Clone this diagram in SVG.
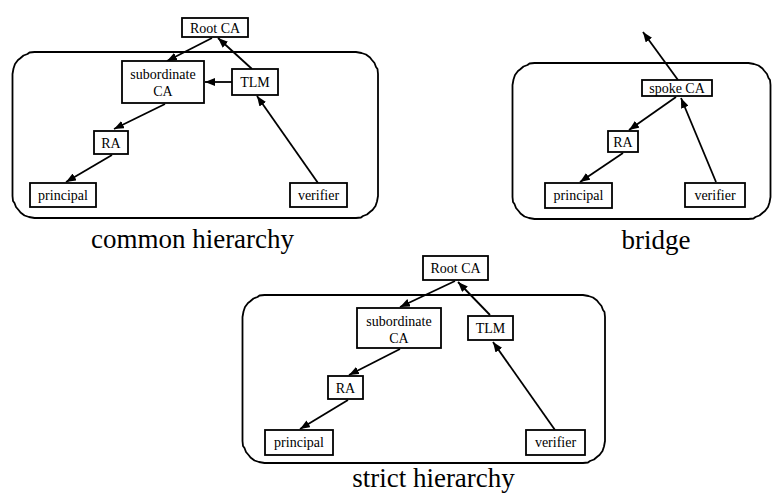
<svg xmlns="http://www.w3.org/2000/svg" width="773" height="493" viewBox="0 0 773 493" font-family="'Liberation Serif', 'Times New Roman', 'DejaVu Serif', serif">
  <defs>
    <marker id="arrow" markerUnits="userSpaceOnUse" markerWidth="10" markerHeight="8" refX="10" refY="4" orient="auto">
      <path d="M0,0 L10,4 L0,8 Z" fill="#000"/>
    </marker>
    <style>
      .domain { fill: none; stroke: #000; stroke-width: 1.8; stroke-linejoin: round; }
      .box rect { fill: #fff; stroke: #000; stroke-width: 1.8; }
      text { font-family: 'Liberation Serif', 'Times New Roman', 'DejaVu Serif', serif; fill: #000; text-anchor: middle; }
      .box text { font-size: 14px; }
      .caption { font-size: 27px; }
      #connectors line { stroke: #000; stroke-width: 1.8; marker-end: url(#arrow); }
    </style>
  </defs>
  <rect width="773" height="493" fill="#fff"/>

  <!-- domain outlines with hand-drawn corners -->
  <g id="domains">
    <path id="domain-common" class="domain" d="M12.5,74 l1,-5.5 1.5,-4.5 3,-4 2,-1.5 3.5,-3 4,-1.5 2,-1.5 5,-0.5 H356 l5.5,1 4.5,1.5 4,3 1.5,2 3,3.5 1.5,4 1.5,2 0.5,5 V196 l-1,5.5 -1.5,4.5 -3,4 -2,1.5 -3.5,3 -4,1.5 -2,1.5 -5,0.5 H34.5 l-5.5,-1 -4.5,-1.5 -4,-3 -1.5,-2 -3,-3.5 -1.5,-4 -1.5,-2 -0.5,-5 Z"/>
    <path id="domain-bridge" class="domain" d="M512.5,85 l1,-5.5 1.5,-4.5 3,-4 2,-1.5 3.5,-3 4,-1.5 2,-1.5 5,-0.5 H748.5 l5.5,1 4.5,1.5 4,3 1.5,2 3,3.5 1.5,4 1.5,2 0.5,5 V197 l-1,5.5 -1.5,4.5 -3,4 -2,1.5 -3.5,3 -4,1.5 -2,1.5 -5,0.5 H534.5 l-5.5,-1 -4.5,-1.5 -4,-3 -1.5,-2 -3,-3.5 -1.5,-4 -1.5,-2 -0.5,-5 Z"/>
    <path id="domain-strict" class="domain" d="M242.5,317 l1,-5.5 1.5,-4.5 3,-4 2,-1.5 3.5,-3 4,-1.5 2,-1.5 5,-0.5 H583 l5.5,1 4.5,1.5 4,3 1.5,2 3,3.5 1.5,4 1.5,2 0.5,5 V441 l-1,5.5 -1.5,4.5 -3,4 -2,1.5 -3.5,3 -4,1.5 -2,1.5 -5,0.5 H264.5 l-5.5,-1 -4.5,-1.5 -4,-3 -1.5,-2 -3,-3.5 -1.5,-4 -1.5,-2 -0.5,-5 Z"/>
  </g>

  <!-- connectors -->
  <g id="connectors">
    <!-- common hierarchy -->
    <line x1="212" y1="38" x2="167" y2="61"/>
    <line x1="252" y1="69" x2="218" y2="38"/>
    <line x1="232" y1="82" x2="205" y2="82"/>
    <line x1="165" y1="104" x2="114" y2="129"/>
    <line x1="112" y1="155" x2="66" y2="182"/>
    <line x1="318" y1="183" x2="257" y2="96"/>
    <!-- bridge -->
    <line x1="678" y1="80" x2="643" y2="32"/>
    <line x1="676" y1="97" x2="629" y2="130"/>
    <line x1="623" y1="153" x2="580" y2="182"/>
    <line x1="716" y1="182" x2="681" y2="98"/>
    <!-- strict hierarchy -->
    <line x1="455" y1="281" x2="400" y2="307"/>
    <line x1="490" y1="315" x2="458" y2="282"/>
    <line x1="400" y1="349" x2="349" y2="375"/>
    <line x1="348" y1="400" x2="300" y2="429"/>
    <line x1="555" y1="430" x2="493" y2="342"/>
  </g>

  <!-- common hierarchy nodes -->
  <g id="c-root" class="box"><rect x="182" y="18" width="66" height="19"/><text x="215" y="32.5">Root CA</text></g>
  <g id="c-sub" class="box"><rect x="122" y="61" width="82" height="42"/><text x="163" y="79">subordinate</text><text x="163" y="95.5">CA</text></g>
  <g id="c-tlm" class="box"><rect x="232" y="69" width="46" height="26"/><text x="255" y="87">TLM</text></g>
  <g id="c-ra" class="box"><rect x="94" y="131" width="34" height="23"/><text x="111" y="147.5">RA</text></g>
  <g id="c-principal" class="box"><rect x="30" y="183" width="66" height="24"/><text x="63" y="199.5">principal</text></g>
  <g id="c-verifier" class="box"><rect x="290" y="183" width="57" height="24"/><text x="318.5" y="199.5">verifier</text></g>

  <!-- bridge nodes -->
  <g id="b-spoke" class="box"><rect x="642" y="80" width="70" height="16"/><text x="677" y="92.5">spoke CA</text></g>
  <g id="b-ra" class="box"><rect x="608" y="131" width="30" height="21"/><text x="623" y="146.5">RA</text></g>
  <g id="b-principal" class="box"><rect x="545" y="183" width="67" height="25"/><text x="578.5" y="200">principal</text></g>
  <g id="b-verifier" class="box"><rect x="685" y="183" width="60" height="24"/><text x="715" y="199.5">verifier</text></g>

  <!-- strict hierarchy nodes -->
  <g id="s-root" class="box"><rect x="423" y="256" width="65" height="24"/><text x="455.5" y="273">Root CA</text></g>
  <g id="s-sub" class="box"><rect x="357" y="308" width="84" height="40"/><text x="399" y="326">subordinate</text><text x="399" y="342.5">CA</text></g>
  <g id="s-tlm" class="box"><rect x="468" y="316" width="45" height="24"/><text x="490.5" y="333">TLM</text></g>
  <g id="s-ra" class="box"><rect x="328" y="376" width="35" height="23"/><text x="345.5" y="392.5">RA</text></g>
  <g id="s-principal" class="box"><rect x="265" y="430" width="68" height="25"/><text x="299" y="447">principal</text></g>
  <g id="s-verifier" class="box"><rect x="526" y="430" width="59" height="25"/><text x="555.5" y="447">verifier</text></g>

  <!-- captions -->
  <text class="caption" x="192.5" y="248">common hierarchy</text>
  <text class="caption" x="656" y="249">bridge</text>
  <text class="caption" x="433.5" y="487">strict hierarchy</text>
</svg>
